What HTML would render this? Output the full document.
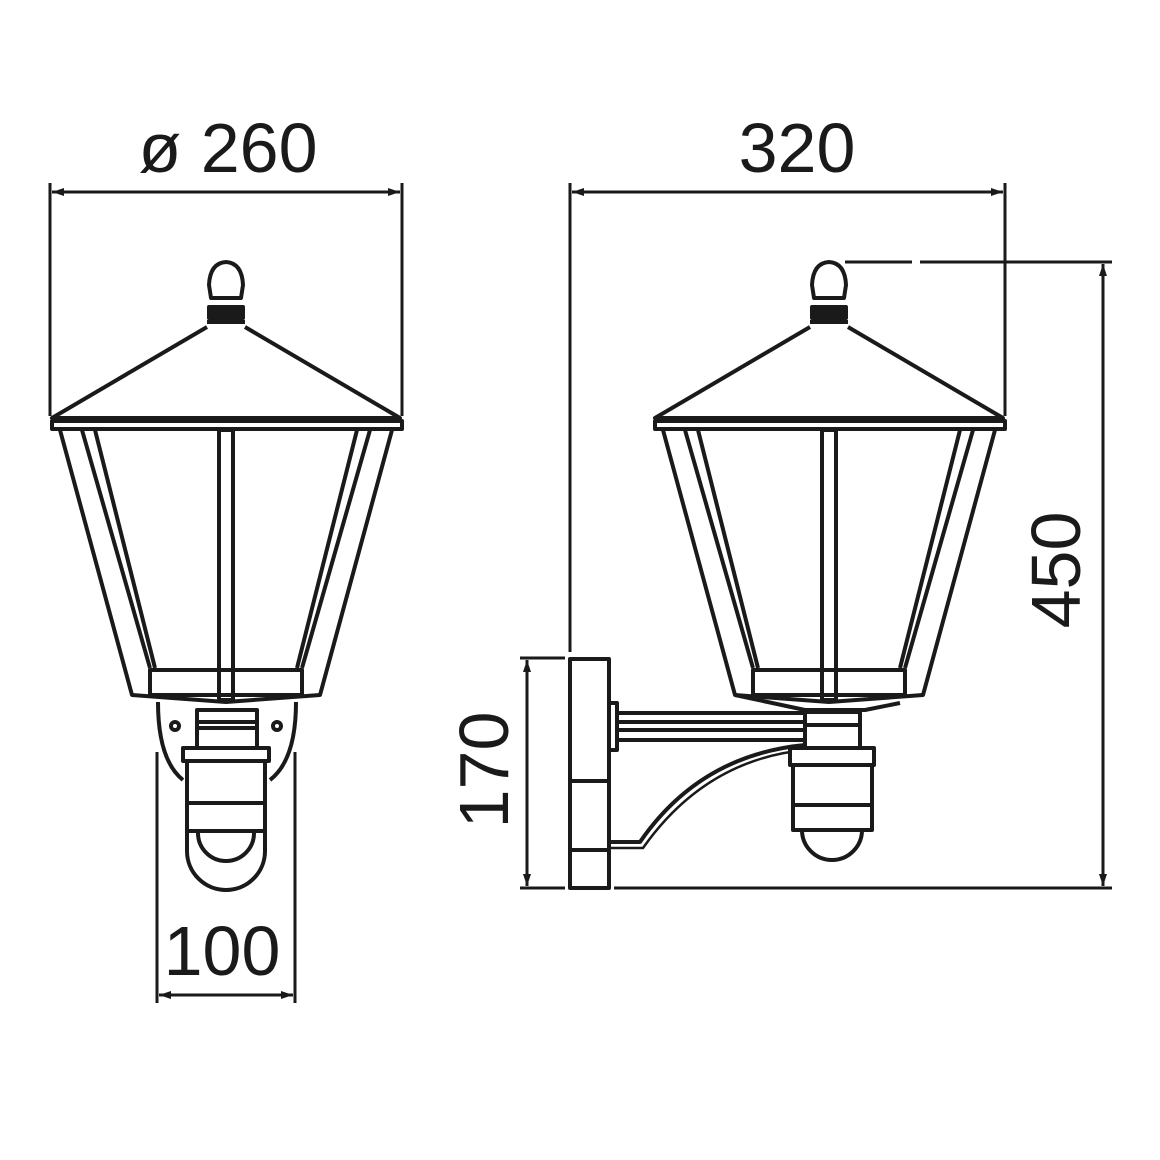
<!DOCTYPE html>
<html><head><style>html,body{margin:0;background:#fff}svg{display:block}</style></head><body>
<svg width="1160" height="1160" viewBox="0 0 1160 1160" xmlns="http://www.w3.org/2000/svg">
<defs>
<marker id="a" markerWidth="12" markerHeight="8" refX="12" refY="4" orient="auto-start-reverse" markerUnits="userSpaceOnUse"><path d="M0,0 L12,4 L0,8 z" fill="#1a1a1a"/></marker>
<g id="lamp" fill="none" stroke="#1a1a1a" stroke-width="4" stroke-linejoin="round">
<path d="M211,298 L209,285 Q210,263 226,262 Q242,263 243,285 L241,298 Z"/>
<rect x="209" y="307" width="34" height="11" fill="#1a1a1a"/>
<line x1="207" y1="322" x2="245" y2="322"/>
<path d="M207,327 L52,418 L400,418 L245,327"/>
<rect x="52" y="421" width="350" height="8"/>
<path d="M60,430 L132,695 L226,702 L320,695 L392,430"/>
<path d="M82,430 L150,668 M95,430 L155,668 M370,430 L302,668 M357,430 L297,668"/>
<rect x="150" y="670" width="152" height="25"/>
<rect x="219" y="430" width="14" height="270"/>
</g>
</defs>
<g fill="none" stroke="#1a1a1a" stroke-width="3">
<!-- dims left -->
<line x1="50" y1="183" x2="50" y2="416"/><line x1="402" y1="183" x2="402" y2="416"/>
<line x1="52" y1="192" x2="400" y2="192" marker-start="url(#a)" marker-end="url(#a)"/>
<line x1="157" y1="752" x2="157" y2="1003"/><line x1="295" y1="752" x2="295" y2="1003"/>
<line x1="159" y1="995" x2="293" y2="995" marker-start="url(#a)" marker-end="url(#a)"/>
<!-- dims right -->
<line x1="570" y1="183" x2="570" y2="652"/><line x1="1005" y1="183" x2="1005" y2="416"/>
<line x1="572" y1="192" x2="1003" y2="192" marker-start="url(#a)" marker-end="url(#a)"/>
<line x1="845" y1="262" x2="912" y2="262"/><line x1="920" y1="262" x2="1112" y2="262"/>
<line x1="614" y1="888" x2="1112" y2="888"/>
<line x1="1103" y1="264" x2="1103" y2="886" marker-start="url(#a)" marker-end="url(#a)"/>
<line x1="520" y1="658" x2="565" y2="658"/><line x1="520" y1="888" x2="565" y2="888"/>
<line x1="527" y1="660" x2="527" y2="886" marker-start="url(#a)" marker-end="url(#a)"/>
</g>
<use href="#lamp"/>
<use href="#lamp" transform="translate(603,0)"/>
<g fill="none" stroke="#1a1a1a" stroke-width="4" stroke-linejoin="round">
<!-- left bracket/sensor -->
<path d="M158,702 Q158,760 183,780 M296,702 Q296,760 270,780"/>
<circle cx="175" cy="726" r="4"/><circle cx="277" cy="726" r="4"/>
<rect x="197" y="710" width="60" height="40" fill="#fff"/>
<line x1="197" y1="722" x2="257" y2="722"/><line x1="197" y1="728" x2="257" y2="728"/>
<rect x="183" y="748" width="86" height="13" fill="#fff"/>
<rect x="187" y="761" width="78" height="70" fill="#fff"/>
<line x1="187" y1="803" x2="265" y2="803"/>
<path d="M187,831 L187,851 A39,39 0 0 0 265,851 L265,831"/>
<path d="M198,833 A28,28 0 0 0 254,833"/>
<!-- right wall plate -->
<rect x="570" y="659" width="39" height="229"/>
<line x1="570" y1="781" x2="609" y2="781"/><line x1="570" y1="850" x2="609" y2="850"/>
<rect x="609" y="703" width="8" height="47"/>
<line x1="617" y1="713" x2="805" y2="713"/><line x1="617" y1="722" x2="805" y2="722"/>
<line x1="617" y1="730" x2="805" y2="730"/><line x1="617" y1="740" x2="805" y2="740"/>
<path d="M609,842 L640,842 Q700,755 805,745"/>
<path d="M609,848 L643,848 Q705,760 805,750" stroke-width="2.5"/>
<path d="M735,695 L805,710 L865,710 L900,703"/>
<rect x="805" y="712" width="55" height="36" fill="#fff"/>
<line x1="805" y1="725" x2="860" y2="725"/>
<rect x="790" y="748" width="84" height="17" fill="#fff"/>
<rect x="793" y="765" width="79" height="65" fill="#fff"/>
<line x1="793" y1="805" x2="872" y2="805"/>
<path d="M802,830 A30,30 0 0 0 862,830"/>
</g>
<g font-family="Liberation Sans, sans-serif" font-size="70" fill="#1a1a1a" text-anchor="middle">
<text x="228" y="172">ø 260</text>
<text x="797" y="172">320</text>
<text x="222" y="975">100</text>
<text transform="translate(1080,570) rotate(-90)">450</text>
<text transform="translate(508,770) rotate(-90)">170</text>
</g>
</svg>
</body></html>
